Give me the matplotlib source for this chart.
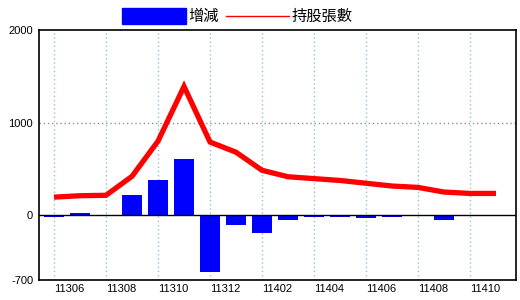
import matplotlib
matplotlib.use('Agg')
import matplotlib.pyplot as plt
import matplotlib.transforms as mtransforms
from matplotlib.patches import Rectangle
from matplotlib.lines import Line2D
import numpy as np

# monthly data (ROC year + month)
months = ['11305', '11306', '11307', '11308', '11309', '11310', '11311', '11312', '11401',
          '11402', '11403', '11404', '11405', '11406', '11407', '11408', '11409', '11410']
change = [-15, 20, 0, 215, 375, 612, -610, -110, -195,
          -55, -20, -20, -30, -15, 0, -55, 0, 0]
holding = [195, 210, 215, 420, 800, 1390, 790, 680, 485,
           415, 395, 375, 345, 315, 300, 250, 235, 235]
yticks = [-700, 0, 1000, 2000]

cjk = ['Noto Sans CJK TC', 'DejaVu Sans']
num_font = 'Liberation Sans'

fig = plt.figure(figsize=(5.2, 3.0), dpi=100)
ax = fig.add_axes([38.7/520, 1-280/300, (516-38.7)/520, 250/300])

x = np.arange(len(months))
ax.bar(x, change, width=0.77, color='#0000ff', zorder=2)
ax.plot(x, holding, color='#ff0000', linewidth=3.8, solid_joinstyle='miter',
        solid_capstyle='butt', zorder=3)
ax.axhline(0, color='black', linewidth=1, zorder=2.5)

ax.set_xlim(-0.59, 17.77)
ax.set_ylim(-700, 2000)

# grid
for xi in x[::2]:
    ax.axvline(xi, color='#9dbdd0', linewidth=1, linestyle=(0, (1, 2)), zorder=1)
ax.axhline(1000, color='#909090', linewidth=1, linestyle=(0, (1, 2)), zorder=1)

ax.set_yticks(yticks)
ax.set_yticklabels([str(v) for v in yticks], fontsize=8, family=num_font)
ax.set_xticks(x[::2])
ax.set_xticklabels(months[1::2], fontsize=8, family=num_font, ha='left')
offset = mtransforms.ScaledTranslation(3/100, 0, fig.dpi_scale_trans)
for lab in ax.get_xticklabels():
    lab.set_transform(lab.get_transform() + offset)
ax.tick_params(axis='both', length=0, pad=3)
ax.tick_params(axis='y', pad=4)
for s in ax.spines.values():
    s.set_linewidth(1.2)
    s.set_color('black')

# legend drawn manually on the figure
fig.patches.append(Rectangle((122/520, 1-24/300), 64/520, 16/300,
                             transform=fig.transFigure, color='#0000ff'))
fig.text(188/520, 1-16/300, '增減', family=cjk, fontsize=11, va='center', ha='left')
fig.lines.append(Line2D([226/520, 289/520], [1-16/300, 1-16/300],
                        transform=fig.transFigure, color='#ff0000', linewidth=1))
fig.text(292/520, 1-16/300, '持股張數', family=cjk, fontsize=11, va='center', ha='left')

fig.savefig('out.png', dpi=100)
